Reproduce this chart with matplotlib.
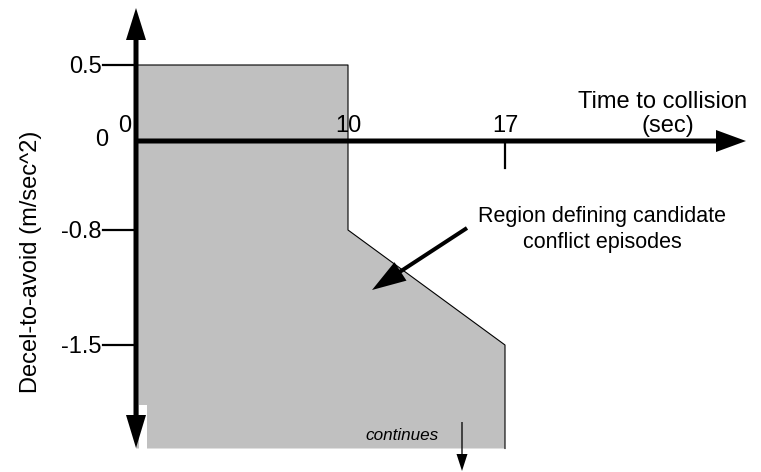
import numpy as np
import matplotlib.pyplot as plt
from matplotlib import transforms

plt.rcParams['font.family'] = ['Liberation Sans', 'DejaVu Sans']

# values
t_ticks = [0, 10, 17]
t_labels = ['0', '10', '17']
decel_ticks = [0.5, 0, -0.8, -1.5]
decel_labels = ['0.5', '0', '-0.8', '-1.5']
region_t = [0, 10, 10, 17, 17, 0]
region_decel = [0.5, 0.5, -0.8, -1.5, -2.13, -2.13]


# the sketch is not drawn to scale, so use piecewise linear axes
def piecewise(vals, pos):
    vals = np.asarray(vals, float)
    pos = np.asarray(pos, float)

    def make(a, b):
        s0 = (b[1] - b[0]) / (a[1] - a[0])
        s1 = (b[-1] - b[-2]) / (a[-1] - a[-2])

        def f(v):
            v = np.asarray(v, float)
            out = np.interp(v, a, b)
            out = np.where(v < a[0], b[0] + (v - a[0]) * s0, out)
            out = np.where(v > a[-1], b[-1] + (v - a[-1]) * s1, out)
            return out
        return f
    return make(vals, pos), make(pos, vals)


fx, fx_inv = piecewise([0, 10, 17], [136, 348, 505])
fy, fy_inv = piecewise([-1.5, -0.8, 0, 0.5], [-345, -230, -141, -65])

fig = plt.figure(figsize=(7.61, 4.72), dpi=100)
ax = fig.add_axes([0, 0, 1, 1])
ax.set_xscale('function', functions=(fx, fx_inv))
ax.set_yscale('function', functions=(fy, fy_inv))
ax.set_xlim(float(fx_inv(0)), float(fx_inv(761)))
ax.set_ylim(float(fy_inv(-472)), float(fy_inv(0)))
ax.axis('off')

ov = fig.add_axes([0, 0, 1, 1])
ov.set_xlim(0, 761)
ov.set_ylim(472, 0)
ov.axis('off')
ov.patch.set_alpha(0)

# shaded region
ax.fill(region_t, region_decel, color='#c0c0c0', lw=0, zorder=1)
ax.plot(region_t[:5], region_decel[:5], color='black', lw=0.8, zorder=2)

x0 = float(fx(0))
y0 = float(-fy(0))

# white notch behind the lower arrow head
ov.add_patch(plt.Rectangle((138.5, 405), 8, 44, color='white', lw=0, zorder=3))

# axes arrows
ov.arrow(x0, y0, 0, 8 - y0, width=5, head_width=20, head_length=32,
         length_includes_head=True, fc='black', ec='none', zorder=5)
ov.arrow(x0, y0, 0, 448 - y0, width=5, head_width=20, head_length=33,
         length_includes_head=True, fc='black', ec='none', zorder=5)
ov.arrow(x0 - 2, y0, 748 - x0, 0, width=5, head_width=22, head_length=30,
         length_includes_head=True, fc='black', ec='none', zorder=5)

# y ticks and labels
ty = transforms.blended_transform_factory(ov.transData, ax.transData)
for v, lab in zip(decel_ticks, decel_labels):
    if v == 0:
        ov.annotate(lab, (108, v), xycoords=ty, xytext=(0, -5),
                    textcoords='offset pixels', ha='right', va='baseline', fontsize=17)
        continue
    ov.plot([103, x0], [v, v], color='black', lw=1.6, transform=ty, zorder=4)
    ov.annotate(lab, (102, v), xycoords=ty, xytext=(0, -8),
                textcoords='offset pixels', ha='right', va='baseline', fontsize=17)

# x ticks and labels
tx = transforms.blended_transform_factory(ax.transData, ov.transData)
for t, lab in zip(t_ticks, t_labels):
    if t == 0:
        ov.annotate(lab, (t, 132), xycoords=tx, xytext=(-5, 0),
                    textcoords='offset pixels', ha='right', va='baseline', fontsize=17)
    else:
        ov.annotate(lab, (t, 132), xycoords=tx, ha='center', va='baseline', fontsize=17)
ov.plot([17, 17], [y0, 168], color='black', lw=1.6, transform=tx, zorder=4)

# axis titles
ov.text(663, 108, 'Time to collision', ha='center', va='baseline', fontsize=17)
ov.text(668, 132, '(sec)', ha='center', va='baseline', fontsize=17)
ov.text(31, 262, 'Decel-to-avoid (m/sec^2)', rotation=90, ha='center', va='center', fontsize=17)

# annotation
ov.text(602, 222, 'Region defining candidate', ha='center', va='baseline', fontsize=15.5)
ov.text(602, 248, 'conflict episodes', ha='center', va='baseline', fontsize=15.5)
ov.arrow(467, 228, 372 - 467, 290 - 228, width=4, head_width=22, head_length=34,
         length_includes_head=True, fc='black', ec='none', zorder=5)

ov.text(402, 440, 'continues', ha='center', va='baseline', fontsize=12.3, style='italic')
ov.arrow(462, 422, 0, 49, width=1.3, head_width=11, head_length=17,
         length_includes_head=True, fc='black', ec='none', zorder=5)

plt.savefig('out.png', dpi=100)
